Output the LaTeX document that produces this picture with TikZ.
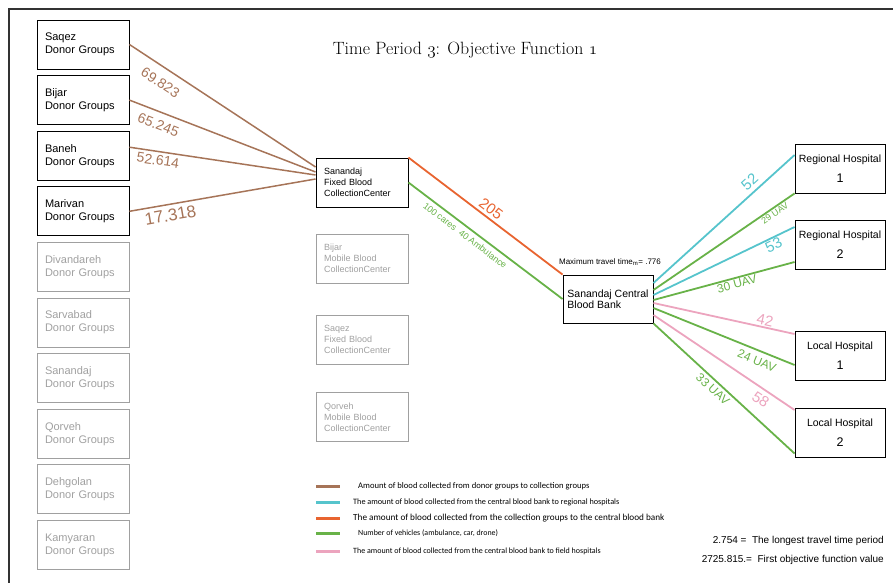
\documentclass[tikz,border=0pt]{standalone}
\usepackage{fontspec}
\setsansfont{Liberation Sans}
\newfontfamily\legendfont{Carlito}
\usetikzlibrary{calc}

\definecolor{brownline}{RGB}{166,116,88}
\definecolor{cyanline}{RGB}{86,196,204}
\definecolor{orangeline}{RGB}{232,100,48}
\definecolor{greenline}{RGB}{104,178,72}
\definecolor{pinkline}{RGB}{236,164,190}
\definecolor{idlegray}{RGB}{160,160,160}

\newcommand{\oldnum}[1]{{\usefont{OML}{cmm}{m}{it}#1}}

\begin{document}
\begin{tikzpicture}[x=1pt,y=-1pt,
  box/.style={draw=black,line width=0.9pt,minimum height=49pt,text width=76pt,
    inner xsep=8pt,align=left,font=\sffamily\fontsize{11}{13}\selectfont},
  idlebox/.style={box,draw=idlegray,text=idlegray},
  centrebox/.style={box,font=\sffamily\fontsize{9}{11}\selectfont},
  idlecentre/.style={centrebox,draw=idlegray,text=idlegray},
  bankbox/.style={draw=black,line width=0.9pt,minimum height=48pt,minimum width=90pt,
    inner xsep=4pt,align=left,font=\sffamily\fontsize{10.5}{11.5}\selectfont},
  hospbox/.style={draw=black,line width=0.9pt,minimum height=49pt,minimum width=90pt,
    inner xsep=2pt,align=center,font=\sffamily\fontsize{10.5}{20}\selectfont},
  flow/.style={line width=1.8pt},
  lbl/.style={sloped,inner sep=1pt,font=\sffamily\fontsize{#1}{#1}\selectfont},
  lbl/.default=14,
  legendbar/.style={line width=3pt}]
  \useasboundingbox (0,0) rectangle (893,583);
  \draw[line width=1.3pt,black!80] (893,9) -- (9,9) -- (9,583);
  \node[font=\fontsize{17.8}{18}\selectfont] (title) at (465,50)
    {Time Period \oldnum{3}: Objective Function \oldnum{1}};

  % donor groups
  \foreach \name/\town [count=\i from 0] in
    {saqez/Saqez,bijar/Bijar,baneh/Baneh,marivan/Marivan}
    \node[box] (\name) at (83,44.5+55.6*\i) {\town\\Donor Groups};
  \foreach \name/\town [count=\i from 4] in
    {divandareh/Divandareh,sarvabad/Sarvabad,sanandaj/Sanandaj,
     qorveh/Qorveh,dehgolan/Dehgolan,kamyaran/Kamyaran}
    \node[idlebox] (\name) at (83,44.5+55.6*\i) {\town\\Donor Groups};

  % collection centres
  \node[centrebox] (sanfix) at (362,182.5) {Sanandaj\\Fixed Blood\\CollectionCenter};
  \node[idlecentre] (bijmob) at (362,258.5) {Bijar\\Mobile Blood\\CollectionCenter};
  \node[idlecentre] (saqfix) at (362,339.5) {Saqez\\Fixed Blood\\CollectionCenter};
  \node[idlecentre] (qormob) at (362,417) {Qorveh\\Mobile Blood\\CollectionCenter};

  % central bank and hospitals
  \node[bankbox] (bank) at (608,299) {Sanandaj Central\\Blood Bank};
  \node[font=\sffamily\fontsize{8}{8}\selectfont] (maxtime) at (610,262)
    {Maximum travel time\textsubscript{m}= .776};
  \node[hospbox] (reg1) at (840,168.5) {Regional Hospital\\{\fontsize{12.5}{12.5}\selectfont 1}};
  \node[hospbox] (reg2) at (840,244.5) {Regional Hospital\\{\fontsize{12.5}{12.5}\selectfont 2}};
  \node[hospbox] (loc1) at (840,356) {Local Hospital\\{\fontsize{12.5}{12.5}\selectfont 1}};
  \node[hospbox] (loc2) at (840,432.5) {Local Hospital\\{\fontsize{12.5}{12.5}\selectfont 2}};

  % donors to centre
  \draw[brownline,line width=1.5pt] (saqez.east) -- ([yshift=15.5pt]sanfix.west)
    node[lbl,pos=0.21,below=8pt,text=brownline] {69.823};
  \draw[brownline,line width=1.5pt] (bijar.east) -- ([yshift=10.5pt]sanfix.west)
    node[lbl,pos=0.18,below=6pt,text=brownline] {65.245};
  \draw[brownline,line width=1.5pt] ([yshift=8.5pt]baneh.east) -- ([yshift=7.5pt]sanfix.west)
    node[lbl,pos=0.16,below=2pt,text=brownline] {52.614};
  \draw[brownline,line width=1.5pt] (marivan.east) -- ([yshift=3.5pt]sanfix.west)
    node[lbl=17,pos=0.21,below=3pt,text=brownline] {17.318};

  % centre to bank
  \draw[flow,orangeline] (sanfix.north east) -- (bank.north west)
    node[lbl=15,pos=0.5,above=2pt,text=orangeline] {205};
  \draw[flow,greenline] (sanfix.east) -- (bank.west)
    node[lbl=9,pos=0.4,below=3pt,text=greenline] {100 cares\ \ 40 Ambulance};

  % bank to hospitals
  \draw[flow,cyanline] ([yshift=16pt]bank.east) -- ([yshift=13.5pt]reg1.west)
    node[lbl=15,pos=0.73,above=3pt,text=cyanline] {52};
  \draw[flow,greenline] ([yshift=9pt]bank.east) -- (reg1.south west)
    node[lbl=9,pos=0.84,below=0pt,text=greenline] {29 UAV};
  \draw[flow,cyanline] ([yshift=4pt]bank.east) -- ([yshift=17.5pt]reg2.west)
    node[lbl=15,pos=0.83,below=0pt,text=cyanline] {53};
  \draw[flow,greenline] ([yshift=-1pt]bank.east) -- ([yshift=-17.5pt]reg2.west)
    node[lbl=12,pos=0.58,below=0pt,text=greenline] {30 UAV};
  \draw[flow,pinkline] ([yshift=-4pt]bank.east) -- ([yshift=22pt]loc1.west)
    node[lbl=15,pos=0.78,above=0pt,text=pinkline] {42};
  \draw[flow,greenline] ([yshift=-9pt]bank.east) -- ([yshift=-9pt]loc1.west)
    node[lbl=12,pos=0.76,below=4pt,text=greenline] {24 UAV};
  \draw[flow,pinkline] ([yshift=-16pt]bank.east) -- ([yshift=22.5pt]loc2.west)
    node[lbl=15,pos=0.8,below=3pt,text=pinkline] {58};
  \draw[flow,greenline] (bank.south east) -- ([yshift=-21pt]loc2.west)
    node[lbl=12,pos=0.46,below=2pt,text=greenline] {33 UAV};

  % legend
  \draw[legendbar,brownline] (316,486) -- (340,486);
  \draw[legendbar,cyanline] (316,502) -- (340,502);
  \draw[legendbar,orangeline] (316,518) -- (340,518);
  \draw[legendbar,greenline] (316,533) -- (340,533);
  \draw[legendbar,pinkline] (316,551) -- (340,551);
  \node[anchor=west,inner sep=0pt,font=\legendfont\fontsize{8.6}{9}\selectfont] (leg1) at (358,486)
    {Amount of blood collected from donor groups to collection groups};
  \node[anchor=west,inner sep=0pt,font=\legendfont\fontsize{8.2}{9}\selectfont] (leg2) at (353,502)
    {The amount of blood collected from the central blood bank to regional hospitals};
  \node[anchor=west,inner sep=0pt,font=\legendfont\fontsize{9.2}{9}\selectfont] (leg3) at (353,518)
    {The amount of blood collected from the collection groups to the central blood bank};
  \node[anchor=west,inner sep=0pt,font=\legendfont\fontsize{7.9}{9}\selectfont] (leg4) at (358,533)
    {Number of vehicles (ambulance, car, drone)};
  \node[anchor=west,inner sep=0pt,font=\legendfont\fontsize{8}{9}\selectfont] (leg5) at (353,551)
    {The amount of blood collected from the central blood bank to field hospitals};

  % totals
  \node[anchor=east,inner sep=0pt,font=\sffamily\fontsize{10}{10}\selectfont] (longest) at (884,541)
    {2.754 = \ The longest travel time period};
  \node[anchor=east,inner sep=0pt,font=\sffamily\fontsize{10}{10}\selectfont] (objval) at (884,560)
    {2725.815.= \ First objective function value};
\end{tikzpicture}
\end{document}
